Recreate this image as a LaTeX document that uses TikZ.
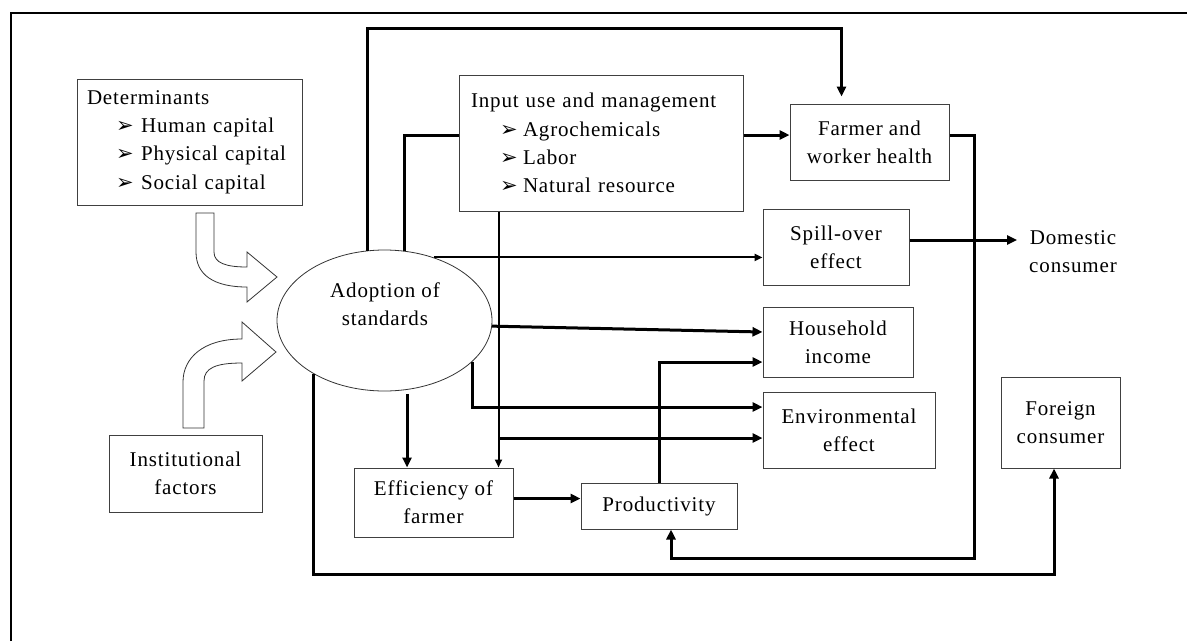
\documentclass[tikz,border=0pt]{standalone}
\usepackage{fontspec}
\setmainfont{Liberation Serif}[LetterSpace=4]
\newfontfamily\bulfont{DejaVu Sans}
\usetikzlibrary{arrows.meta,calc,shapes.geometric}
\newcommand{\bul}{{\bulfont\fontsize{21}{21}\selectfont ➢}}
\begin{document}
\begin{tikzpicture}[x=1pt,y=-1pt,
  every node/.style={font=\fontsize{21}{28.3}\selectfont},
  box/.style={draw=black!75, line width=1pt, inner sep=0pt, align=center},
  thickc/.style={line width=3pt},
  thinc/.style={line width=2pt},
  bigtip/.style={-{Triangle[length=10pt,width=9pt]}},
  smalltip/.style={-{Triangle[length=8pt,width=7pt]}},
  blockarrow/.style={draw=black!80, fill=white, line width=0.8pt, line join=miter}
]
\useasboundingbox (0,0) rectangle (1187,641);
\draw[line width=2pt] (11,641) -- (11,12.5) -- (1187,12.5);

% nodes
\node[box, minimum width=225pt, minimum height=126pt, text width=205pt, align=left] (det) at (189.5,142)
  {Determinants\\ \hspace*{29pt}\makebox[25pt][l]{\bul}Human capital\\ \hspace*{29pt}\makebox[25pt][l]{\bul}Physical capital\\ \hspace*{29pt}\makebox[25pt][l]{\bul}Social capital};
\node[box, minimum width=284pt, minimum height=136pt, text width=260pt, align=left] (input) at (601,143)
  {Input use and management\\ \hspace*{29pt}\makebox[23pt][l]{\bul}Agrochemicals\\ \hspace*{29pt}\makebox[23pt][l]{\bul}Labor\\ \hspace*{29pt}\makebox[23pt][l]{\bul}Natural resource};
\node[box, minimum width=159pt, minimum height=76pt] (farmer) at (869.5,142) {Farmer and\\worker health};
\node[box, minimum width=146pt, minimum height=76pt] (spill) at (836,247) {Spill-over\\effect};
\node[box, minimum width=150pt, minimum height=70pt] (household) at (838,342) {Household\\income};
\node[box, minimum width=172pt, minimum height=76pt] (env) at (849,430) {Environmental\\effect};
\node[box, minimum width=119pt, minimum height=91pt] (foreign) at (1060.5,422.5) {Foreign\\consumer};
\node[box, minimum width=159pt, minimum height=69pt] (eff) at (433.5,502.5) {Efficiency of\\farmer};
\node[box, minimum width=156pt, minimum height=46pt] (prod) at (659,506) {Productivity};
\node[box, minimum width=153pt, minimum height=77pt] (inst) at (185.5,473.5) {Institutional\\factors};
\node[ellipse, draw=black!80, line width=0.8pt, minimum width=215pt, minimum height=141pt, inner sep=0pt] (adopt) at (384.5,320.5) {};
\node[align=center] (adopttxt) at (385,304) {Adoption of\\standards};
\node[align=center, inner sep=2pt] (dom) at (1073,251.5) {Domestic\\consumer};

% block arrows
\draw[blockarrow] (196,213) -- (214,213) -- (214,252) .. controls (214,263) and (226,267) .. (247,267) -- (247,252) -- (277,277) -- (247,302) -- (247,287) .. controls (214,287) and (196,275) .. (196,252) -- cycle;
\draw[blockarrow] (183,428) -- (204,428) -- (204,381) .. controls (204,368) and (216,363) .. (242,363) -- (242,381) -- (276,352) -- (242,322) -- (242,339) .. controls (203,339) and (183,358) .. (183,382) -- cycle;

% connectors
\draw[thickc,bigtip,shorten >=7pt] (adopt.104.1) |- ($(farmer.north west)+(52,-75)$) -- ($(farmer.north west)+(52,0)$);
\draw[thickc] (adopt.74.3) |- ($(input.west)+(0,-8)$);
\coordinate (i1) at ($(input.east)+(0,-8)$);
\draw[thickc,bigtip] (i1) -- (i1 -| farmer.west);
\draw[thinc,smalltip] (adopt.52.4) -- (adopt.52.4 -| spill.west);
\coordinate (s1) at ($(spill.east)+(0,-7)$);
\draw[thickc,bigtip,shorten >=10pt] (s1) -- (s1 -| dom.west);
\draw[thickc,bigtip] (adopt.357.1) -- ($(household.west)+(0,-10)$);
\draw[thickc,bigtip] (prod.north) |- ($(household.west)+(0,20)$);
\draw[thickc,bigtip] (adopt.335.7) |- ($(env.west)+(0,-23)$);
\coordinate (iv) at ($(input.south west)+(40,0)$);
\draw[thinc,smalltip] (iv) -- (iv |- eff.north);
\coordinate (e2) at ($(env.west)+(0,8)$);
\draw[thickc,bigtip] (iv |- e2) -- (e2);
\draw[thickc,bigtip,shorten <=4pt] (adopt.288.1) -- (adopt.288.1 |- eff.north);
\coordinate (ef1) at ($(eff.east)+(0,-4)$);
\draw[thickc,bigtip] (ef1) -- (ef1 -| prod.west);
\draw[thickc,bigtip] ($(farmer.east)+(0,-7)$) -- ++(25,0) |- ($(prod.south)+(12,29)$) -- ($(prod.south)+(12,0)$);
\draw[thickc,bigtip] (adopt.217.7) |- ($(foreign.south)+(-6.5,106)$) -- ($(foreign.south)+(-6.5,0)$);
\end{tikzpicture}
\end{document}
